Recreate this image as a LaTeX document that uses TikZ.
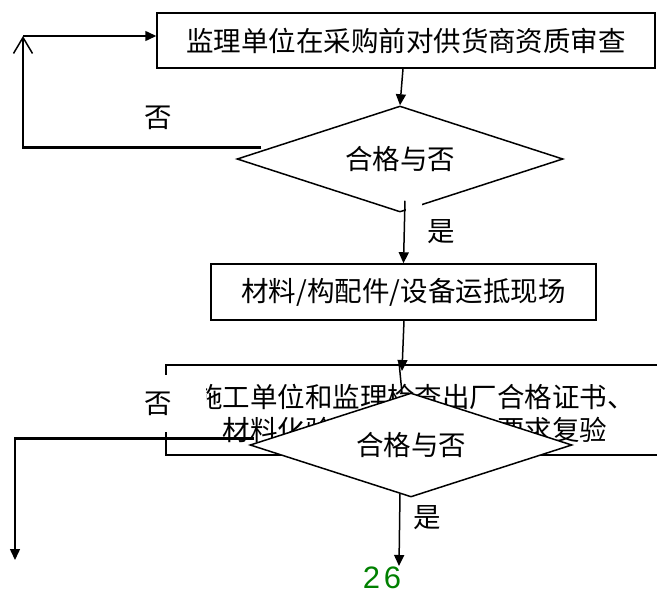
\documentclass[tikz,border=0pt]{standalone}
\usepackage{fontspec}
\setmainfont{Noto Sans CJK SC}
\newfontfamily\numfont{Liberation Sans}
\usetikzlibrary{shapes.geometric,arrows.meta}
\definecolor{numgreen}{RGB}{0,128,0}
\begin{document}
\begin{tikzpicture}[x=1pt,y=-1pt,
  every node/.style={font=\fontsize{27.5}{33}\selectfont, inner sep=0pt},
  box/.style={draw, line width=1.5pt, rectangle},
  dia/.style={draw, line width=1.5pt, diamond, aspect=3, fill=white},
  arr/.style={line width=1.5pt, -{Triangle[length=11pt,width=10pt]}},
  line/.style={line width=1.5pt},
  thickline/.style={line width=3pt},
  lbl/.style={fill=white}]
\path[use as bounding box] (0,0) rectangle (657,590);
\clip (0,0) rectangle (657,590);
% top box and first decision
\node[box, minimum width=498pt, minimum height=55pt] (box1) at (406,40.5) {监理单位在采购前对供货商资质审查};
\node[dia, minimum width=326pt, minimum height=106pt] (d1) at (400,159) {合格与否};
\fill[white] (405.5,199) rectangle (422,215);
\draw[arr] ([xshift=-3pt]box1.south) -- (d1.north);
% loop back
\coordinate (lb) at (23,147);
\coordinate (lt) at (23,36);
\draw[thickline] ([xshift=25pt,yshift=12pt]d1.west) -- ([xshift=-1.5pt]lb);
\draw[line, -{Straight Barb[length=16pt,width=19pt]}] (lb) -- (lt);
\draw[arr] (lt) -- ([yshift=4.5pt]box1.west);
\node (no1) at (158,118) {否};
% second box
\node[box, minimum width=385pt, minimum height=56pt] (box2) at (403.5,292) {材料/构配件/设备运抵现场};
\draw[arr] ([xshift=5pt,yshift=12pt]d1.south) -- (box2.north);
\node (yes1) at (441,232) {是};
% third box
\node[box, anchor=north west, minimum width=555pt, minimum height=90pt] (box3) at (165,364) {};
\begin{scope}
\clip (206,368) rectangle (657,452);
\node[align=center] (t3) at (415,414) {施工单位和监理检查出厂合格证书、\\材料化验单，并按规定要求复验};
\end{scope}
\node[lbl, minimum width=26pt, minimum height=57pt] (no2) at (158,403.5) {否};
\coordinate (in3) at (402,371);
\coordinate (top3) at (399,362);
\draw[arr] ([xshift=0.5pt]box2.south) -- (in3);
% second decision
\node[dia, minimum width=322pt, minimum height=104pt] (d2) at (411,445) {合格与否};
\draw[line] (top3) -- ([xshift=-9pt,yshift=-1pt]d2.north);
\coordinate (l2) at (15,438);
\coordinate (end1) at (15,560);
\draw[thickline] ([xshift=5pt,yshift=7pt]d2.west) -- ([xshift=-1.5pt]l2);
\draw[arr] (l2) -- (end1);
\coordinate (end2) at (399,566);
\draw[arr] ([xshift=-11pt,yshift=4pt]d2.south) -- (end2);
\node (yes2) at (427,518) {是};
\node[font=\numfont\fontsize{31}{31}\selectfont, text=numgreen] (num) at (382,578) {2\kern4pt 6};
\end{tikzpicture}
\end{document}
